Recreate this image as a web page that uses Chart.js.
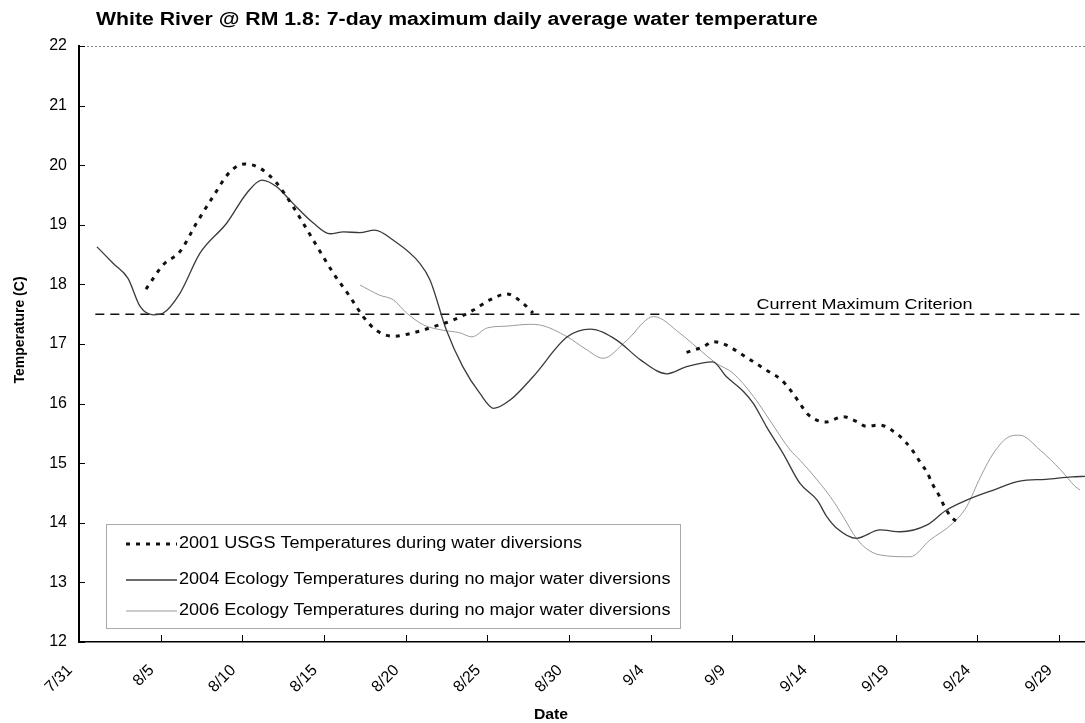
<!DOCTYPE html>
<html><head><meta charset="utf-8">
<script src="https://cdn.jsdelivr.net/npm/chart.js@4.4.0/dist/chart.umd.min.js"></script>
<style>html,body{margin:0;padding:0;background:#fff}</style>
</head><body>
<canvas id="c" width="1085" height="723"></canvas>
<script>
// Days counted from 7/31 (day 0)
const tickDays = [0,5,10,15,20,25,30,35,40,45,50,55,60];
const tickLabels = ['7/31','8/5','8/10','8/15','8/20','8/25','8/30','9/4','9/9','9/14','9/19','9/24','9/29'];
const yTicks = [12,13,14,15,16,17,18,19,20,21,22];

const usgs2001Days = [4.1,5.16,6.18,7.2,8.2,9.25,10.17,11.08,12.1,13.12,14.35,15.57,16.6,17.4,18.2,19.25,20.5,21.7,22.9,24.15,25.16,26.2,27.2,27.8,
  32.5,
  37.2,38.2,38.85,39.65,40.5,41.3,42.1,43.0,43.55,44.15,44.56,45.2,45.7,46.8,47.6,48.2,49.05,49.9,50.6,51.1,51.5,51.9,52.3,52.7,53.0,53.4,53.95];
const usgs2001Temps = [17.92,18.33,18.55,19.03,19.47,19.89,20.02,19.95,19.70,19.30,18.74,18.19,17.79,17.46,17.23,17.13,17.19,17.29,17.40,17.57,17.74,17.84,17.68,17.52,
  null,
  16.86,16.95,17.04,16.98,16.84,16.70,16.56,16.40,16.23,16.00,15.84,15.72,15.69,15.78,15.70,15.62,15.64,15.53,15.36,15.19,15.02,14.86,14.63,14.44,14.27,14.10,13.98];

const eco2004Days = [1.1,2.1,3.0,3.74,4.55,5.16,6.18,7.4,9.05,10.27,11.19,12.1,13.1,14.35,15.37,16.2,17.2,18.1,19.25,20.88,21.5,22.5,23.5,24.55,25.4,26.4,27.8,29.9,31.3,32.9,34.4,36.0,37.2,38.8,39.65,40.7,41.3,42.1,43.1,44.15,45.2,45.8,46.4,47.6,49.05,50.3,51.9,53.1,54.35,56.0,57.6,59.2,60.8,61.6];
const eco2004Temps = [18.63,18.35,18.10,17.63,17.49,17.52,17.85,18.52,19.03,19.53,19.75,19.64,19.36,19.03,18.85,18.88,18.87,18.91,18.74,18.35,18.07,17.23,16.62,16.17,15.92,16.06,16.45,17.12,17.25,17.07,16.73,16.50,16.62,16.70,16.45,16.20,16.00,15.61,15.17,14.66,14.38,14.10,13.91,13.74,13.88,13.85,13.96,14.21,14.38,14.55,14.70,14.73,14.77,14.78];

const eco2006Days = [17.2,18.4,19.25,20.06,21.1,22.3,23.3,24.05,25.0,26.2,27.6,28.2,29.9,31.0,32.1,33.5,35.2,36.8,37.8,39.0,40.05,41.3,42.3,43.55,44.15,45.2,46.0,46.8,47.6,48.2,49.05,50.9,52.1,53.5,54.35,55.2,56.0,57.0,57.6,58.85,60.1,61.0,61.3];
const eco2006Temps = [17.99,17.82,17.74,17.52,17.32,17.23,17.19,17.12,17.27,17.30,17.33,17.32,17.12,16.92,16.76,17.05,17.46,17.18,16.95,16.68,16.51,16.12,15.72,15.22,15.05,14.72,14.44,14.10,13.74,13.57,13.46,13.43,13.71,13.99,14.27,14.77,15.17,15.45,15.47,15.22,14.89,14.61,14.55];

const criterionDays = [1.0, 61.6];
const criterionTemps = [17.5, 17.5];
const criterionLabelDay = 48.1;

const seriesLabels = [
  '2001 USGS Temperatures during water diversions',
  '2004 Ecology Temperatures during no major water diversions',
  '2006 Ecology Temperatures during no major water diversions'
];

function pts(xs, ys){ return xs.map((x,i)=>({x:x, y:ys[i]})); }

const FAM = '"Liberation Sans", Arial, sans-serif';
Chart.defaults.font.family = FAM;
Chart.defaults.color = '#000';

function stretchedText(ctx, text, x, y, sx, align){
  ctx.save();
  ctx.translate(x, y); ctx.scale(sx, 1);
  ctx.textAlign = align; ctx.fillText(text, 0, 0);
  ctx.restore();
}

const decor = {
  id:'decor',
  afterDraw(chart){
    const ctx = chart.ctx, xs = chart.scales.x, ys = chart.scales.y, ca = chart.chartArea;
    ctx.save();
    ctx.fillStyle = '#000';
    // title
    ctx.font = 'bold 18px ' + FAM; ctx.textBaseline = 'middle';
    stretchedText(ctx, 'White River @ RM 1.8: 7-day maximum daily average water temperature', 96, 20, 1.18, 'left');
    // axis titles
    ctx.font = 'bold 15px ' + FAM;
    stretchedText(ctx, 'Date', 551, 715, 1.05, 'center');
    ctx.save();
    ctx.translate(20, 330); ctx.rotate(-Math.PI/2);
    ctx.font = 'bold 14px ' + FAM; ctx.textAlign = 'center'; ctx.textBaseline = 'middle';
    ctx.fillText('Temperature (C)', 0, 0);
    ctx.restore();
    // top dotted border
    const yt = ys.getPixelForValue(22);
    ctx.strokeStyle = '#888'; ctx.lineWidth = 1; ctx.setLineDash([2,2]);
    ctx.beginPath(); ctx.moveTo(ca.left, yt+0.5); ctx.lineTo(ca.right, yt+0.5); ctx.stroke();
    ctx.setLineDash([]);
    // inward ticks
    ctx.strokeStyle = '#000'; ctx.lineWidth = 1;
    tickDays.forEach(d=>{ const px = Math.round(xs.getPixelForValue(d))+0.5;
      ctx.beginPath(); ctx.moveTo(px, ca.bottom); ctx.lineTo(px, ca.bottom-7); ctx.stroke(); });
    yTicks.forEach(v=>{ const py = Math.round(ys.getPixelForValue(v))+0.5;
      ctx.beginPath(); ctx.moveTo(ca.left, py); ctx.lineTo(ca.left+6, py); ctx.stroke(); });
    // criterion label
    ctx.font = '15px ' + FAM; ctx.textBaseline = 'alphabetic';
    stretchedText(ctx, 'Current Maximum Criterion', xs.getPixelForValue(criterionLabelDay), ys.getPixelForValue(17.5)-5, 1.2, 'center');
    // legend box
    const bx = 106, by = 524, bw = 574, bh = 104;
    ctx.strokeStyle = '#555'; ctx.lineWidth = 1; ctx.setLineDash([1,1]);
    ctx.strokeRect(bx+0.5, by+0.5, bw, bh);
    ctx.setLineDash([]);
    const rows = [544, 580, 611];
    ctx.font = '16px ' + FAM; ctx.textBaseline = 'middle';
    for (let i=0;i<3;i++){
      const ds = chart.data.datasets[i];
      ctx.strokeStyle = ds.borderColor; ctx.lineWidth = ds.borderWidth;
      ctx.setLineDash(ds.borderDash || []);
      ctx.beginPath(); ctx.moveTo(126, rows[i]); ctx.lineTo(177, rows[i]); ctx.stroke();
      ctx.setLineDash([]);
      ctx.fillStyle = '#000';
      stretchedText(ctx, ds.label, 179, rows[i], 1.13, 'left');
    }
    ctx.restore();
  }
};

new Chart(document.getElementById('c'), {
  type:'line',
  data:{ datasets:[
    { label: seriesLabels[0], data: pts(usgs2001Days, usgs2001Temps), borderColor:'#111', borderWidth:3, borderDash:[4,6], pointRadius:0, cubicInterpolationMode:'monotone', spanGaps:false },
    { label: seriesLabels[1], data: pts(eco2004Days, eco2004Temps), borderColor:'#3a3a3a', borderWidth:1.3, pointRadius:0, cubicInterpolationMode:'monotone' },
    { label: seriesLabels[2], data: pts(eco2006Days, eco2006Temps), borderColor:'#9a9a9a', borderWidth:1, pointRadius:0, cubicInterpolationMode:'monotone' },
    { label: 'Current Maximum Criterion', data: pts(criterionDays, criterionTemps), borderColor:'#111', borderWidth:1.6, borderDash:[9,6], pointRadius:0, tension:0 }
  ]},
  options:{
    responsive:false, animation:false, events:[],
    layout:{ padding:{ top:46, right:0, left:0, bottom:0 } },
    plugins:{ legend:{display:false}, tooltip:{enabled:false} },
    scales:{
      x:{ type:'linear', min:0, max:61.6,
        afterFit(s){ s.height = 81; s.paddingRight = 0; s.paddingLeft = 0; },
        afterBuildTicks(s){ s.ticks = tickDays.map(v=>({value:v})); },
        ticks:{ autoSkip:false, maxRotation:45, minRotation:45, padding:19, labelOffset:-9, font:{size:16},
          callback:(v)=>{ const i = tickDays.indexOf(v); return i>=0 ? tickLabels[i] : ''; } },
        grid:{ display:false, drawTicks:false },
        border:{ color:'#000', width:1.5 },
        title:{ display:false }
      },
      y:{ min:12, max:22,
        afterFit(s){ s.width = 79; s.paddingTop = 0; s.paddingBottom = 0; },
        afterBuildTicks(s){ s.ticks = yTicks.map(v=>({value:v})); },
        ticks:{ padding:12, font:{size:16} },
        grid:{ display:false, drawTicks:false },
        border:{ color:'#000', width:2 },
        title:{ display:false }
      }
    }
  },
  plugins:[decor]
});
</script>
</body></html>
